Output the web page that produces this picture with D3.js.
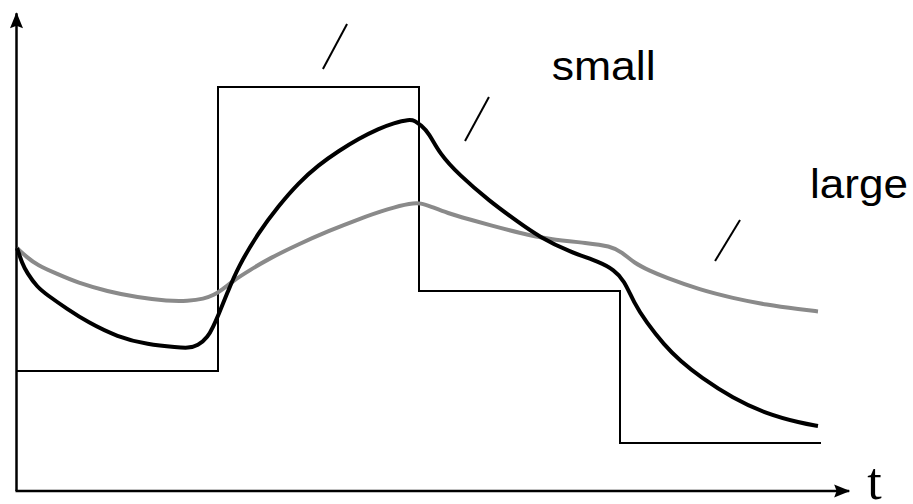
<!DOCTYPE html>
<html>
<head>
<meta charset="utf-8">
<script src="https://cdn.jsdelivr.net/npm/d3@7"></script>
<style>
  html, body { margin: 0; padding: 0; background: #fff; }
  svg { display: block; }
</style>
</head>
<body>
<svg id="chart" width="913" height="504"></svg>
<script>
// ---- data (time units, response units) ----
const stepT      = [0, 10, 20, 30, 40];
const stepLevels = [3, 10.1, 5, 1.2, 1.2];

const smallT = [0, 0.25, 0.5, 1, 1.5, 2.5, 3.5, 5, 6.5, 8, 8.5, 9, 9.5, 9.75, 10, 10.5, 11, 12, 13, 14, 15, 16, 17, 18, 18.75, 19.5, 19.8, 20.1, 20.5, 21, 22, 23.5, 25, 26, 27.5, 29, 29.7, 30.2, 30.7, 31.3, 32.2, 33, 34, 35.6, 37.3, 39, 39.85];
const smallY = [6.075, 5.7, 5.45, 5.1, 4.9, 4.55, 4.225, 3.85, 3.66, 3.59, 3.575, 3.625, 3.85, 4.1, 4.375, 5.0, 5.6, 6.45, 7.12, 7.7, 8.15, 8.5, 8.81, 9.06, 9.2, 9.29, 9.26, 9.14, 8.95, 8.45, 7.9, 7.25, 6.7, 6.35, 5.975, 5.725, 5.525, 5.275, 4.7, 4.225, 3.65, 3.25, 2.85, 2.325, 1.925, 1.7, 1.625];

const largeT = [0, 0.5, 1, 2, 3, 4.5, 6, 7.5, 8.5, 9.3, 9.8, 10.2, 10.8, 11.6, 12.5, 14, 15.5, 17, 18.5, 19.6, 20.1, 20.6, 21.4, 22.5, 23.5, 25, 26.5, 28.4, 29.5, 30.1, 30.7, 31.5, 32.2, 34, 35.6, 37.3, 39, 39.85];
const largeY = [6.075, 5.84, 5.65, 5.425, 5.21, 4.99, 4.84, 4.75, 4.75, 4.8, 4.9, 5.025, 5.275, 5.525, 5.8, 6.17, 6.5, 6.8, 7.06, 7.2, 7.2, 7.11, 6.95, 6.79, 6.65, 6.45, 6.29, 6.2, 6.125, 5.975, 5.7, 5.5, 5.35, 5.025, 4.825, 4.65, 4.54, 4.49];

// slash marks: [t1, y1, t2, y2]
const slashes = [
  [15.22, 10.55, 16.42, 11.675],
  [22.29, 8.75, 23.48, 9.85],
  [34.73, 5.75, 35.97, 6.775]
];

const labels = [
  { text: "small", t: 26.6, y: 10.275, len: 104 },
  { text: "large", t: 39.45, y: 7.325, len: 98 }
];
const axisLabel = { text: "t", t: 42.3, y: -0.2 };
const axisEnds = { t: 41.45, y: 11.97 };

// ---- scales ----
const x = d3.scaleLinear().domain([0, 40]).range([17, 821]);
const y = d3.scaleLinear().domain([0, 12]).range([491, 11]);

const svg = d3.select("#chart");

// arrow marker
const defs = svg.append("defs");
defs.append("marker")
  .attr("id", "arrow")
  .attr("viewBox", "-17 -8 19 16")
  .attr("refX", 0).attr("refY", 0)
  .attr("markerUnits", "userSpaceOnUse")
  .attr("markerWidth", 19).attr("markerHeight", 16)
  .attr("orient", "auto")
  .append("path")
  .attr("d", "M1,0 L-15,-6.5 L-12.5,0 L-15,6.5 Z")
  .attr("fill", "#000");

// axes
svg.append("line")
  .attr("x1", x(0) - 0.5).attr("y1", y(0))
  .attr("x2", x(0) - 0.5).attr("y2", y(axisEnds.y) + 1)
  .attr("stroke", "#000").attr("stroke-width", 2.5)
  .attr("marker-end", "url(#arrow)");
svg.append("line")
  .attr("x1", x(0) - 1.5).attr("y1", y(0))
  .attr("x2", x(axisEnds.t) - 1).attr("y2", y(0))
  .attr("stroke", "#000").attr("stroke-width", 2.5)
  .attr("marker-end", "url(#arrow)");

// step input
const stepData = stepT.map((t, i) => [t, stepLevels[i]]);
svg.append("path")
  .datum(stepData)
  .attr("fill", "none")
  .attr("stroke", "#000")
  .attr("stroke-width", 2)
  .attr("d", d3.line().x(d => x(d[0])).y(d => y(d[1])).curve(d3.curveStepAfter));

// responses
const lineGen = d3.line().x(d => x(d[0])).y(d => y(d[1])).curve(d3.curveBasis);
svg.append("path")
  .datum(largeT.map((t, i) => [t, largeY[i]]))
  .attr("fill", "none")
  .attr("stroke", "#8a8a8a")
  .attr("stroke-width", 4)
  .attr("d", lineGen);

svg.append("path")
  .datum(smallT.map((t, i) => [t, smallY[i]]))
  .attr("fill", "none")
  .attr("stroke", "#000")
  .attr("stroke-width", 4)
  .attr("d", lineGen);

// slashes
svg.selectAll("line.slash")
  .data(slashes)
  .enter().append("line")
  .attr("class", "slash")
  .attr("x1", d => x(d[0])).attr("y1", d => y(d[1]))
  .attr("x2", d => x(d[2])).attr("y2", d => y(d[3]))
  .attr("stroke", "#000").attr("stroke-width", 2);

// labels
svg.selectAll("text.lbl")
  .data(labels)
  .enter().append("text")
  .attr("class", "lbl")
  .attr("x", d => x(d.t)).attr("y", d => y(d.y))
  .attr("font-family", "'Liberation Sans', Arial, sans-serif")
  .attr("font-size", 40)
  .attr("textLength", d => d.len)
  .attr("lengthAdjust", "spacingAndGlyphs")
  .attr("fill", "#000")
  .text(d => d.text);

svg.append("text")
  .attr("x", x(axisLabel.t)).attr("y", y(axisLabel.y))
  .attr("font-family", "'Liberation Serif', 'Times New Roman', serif")
  .attr("font-size", 52)
  .attr("fill", "#000")
  .text(axisLabel.text);
</script>
</body>
</html>
